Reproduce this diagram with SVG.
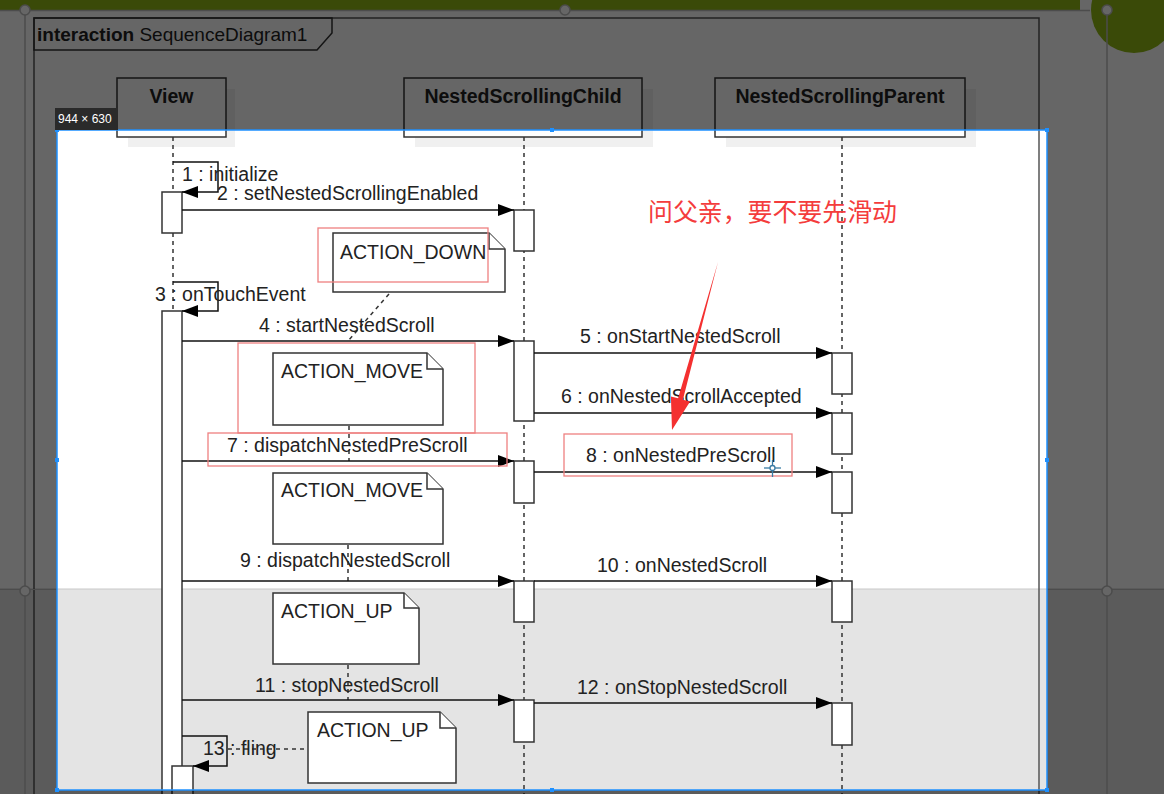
<svg xmlns="http://www.w3.org/2000/svg" width="1164" height="794" viewBox="0 0 1164 794">
<defs>
<marker id="arr" markerWidth="16" markerHeight="12" refX="16" refY="6" orient="auto" markerUnits="userSpaceOnUse"><path d="M0,0 L16,6 L0,12 Z" fill="#000"/></marker>
<style>
.t{font-family:"Liberation Sans",Arial,sans-serif;font-size:19.5px;fill:#222}
.b{font-weight:bold}
.box{fill:#fff;stroke:#333;stroke-width:1.5}
.sh{fill:#f0f0f0}
.life{stroke:#333;stroke-width:1.5;stroke-dasharray:4 4;fill:none}
.msg{stroke:#111;stroke-width:1.5;fill:none;marker-end:url(#arr)}
.act{fill:#fff;stroke:#333;stroke-width:1.5}
.note{fill:#fff;stroke:#333;stroke-width:1.5}
.anc{stroke:#333;stroke-width:1.5;stroke-dasharray:4 4;fill:none}
.red{fill:none;stroke:#ef8080;stroke-width:1.3}
.guide{stroke:#4c4c4c;stroke-width:1.5;fill:none}
.hc{fill:#666;stroke:#4c4c4c;stroke-width:1.5}
.h{fill:#1e90ff}
</style>
</defs>
<g id="background">
<rect x="0" y="0" width="1164" height="794" fill="#fff"/>
<rect x="0" y="589" width="1164" height="205" fill="#e4e4e4"/>
<line x1="0" y1="589" x2="1164" y2="589" stroke="#c8c8c8" stroke-width="1"/>
</g>
<g id="frame">
<path d="M34,794 V18 H1039 V794" fill="none" stroke="#555" stroke-width="1.5"/>
<path d="M34,18 H332 V33 L317,50 H34 Z" fill="none" stroke="#333" stroke-width="1.5"/>
<text class="t" x="37" y="41" style="font-size:19px"><tspan class="b">interaction</tspan> SequenceDiagram1</text>
</g>
<g id="lifeline-view">
<rect class="sh" x="128" y="89" width="107" height="58"/>
<rect class="box" x="117" y="78" width="109" height="59"/>
<text class="t b" x="171.5" y="103" text-anchor="middle">View</text>
<line class="life" x1="173" y1="137" x2="173" y2="794"/>
</g>
<g id="lifeline-child">
<rect class="sh" x="415" y="89" width="238" height="58"/>
<rect class="box" x="404" y="78" width="238" height="59"/>
<text class="t b" x="523" y="103" text-anchor="middle">NestedScrollingChild</text>
<line class="life" x1="524" y1="137" x2="524" y2="794"/>
</g>
<g id="lifeline-parent">
<rect class="sh" x="726" y="89" width="250" height="58"/>
<rect class="box" x="715" y="78" width="250" height="59"/>
<text class="t b" x="840" y="103" text-anchor="middle">NestedScrollingParent</text>
<line class="life" x1="842" y1="137" x2="842" y2="794"/>
</g>
<g id="notes">
<g id="note-action-down">
<path class="note" d="M333,233 H489 L505,249 V292 H333 Z"/><path class="note" d="M489,233 V249 H505"/>
<text class="t" x="340" y="259">ACTION_DOWN</text>
</g>
<g id="note-action-move-1">
<path class="note" d="M273,353 H427 L443,369 V425 H273 Z"/><path class="note" d="M427,353 V369 H443"/>
<text class="t" x="281" y="378">ACTION_MOVE</text>
</g>
<g id="note-action-move-2">
<path class="note" d="M273,473 H427 L443,489 V544 H273 Z"/><path class="note" d="M427,473 V489 H443"/>
<text class="t" x="281" y="497">ACTION_MOVE</text>
</g>
<g id="note-action-up-1">
<path class="note" d="M273,593 H404 L419,608 V664 H273 Z"/><path class="note" d="M404,593 V608 H419"/>
<text class="t" x="281" y="618">ACTION_UP</text>
</g>
<g id="note-action-up-2">
<path class="note" d="M308,712 H440 L456,728 V783 H308 Z"/><path class="note" d="M440,712 V728 H456"/>
<text class="t" x="317" y="737">ACTION_UP</text>
</g>
</g>
<g id="activations">
<rect class="act" x="162" y="192" width="20" height="41"/>
<rect class="act" x="162" y="311" width="20" height="490"/>
<rect class="act" x="172" y="766" width="21" height="40"/>
<rect class="act" x="514" y="210" width="20" height="41"/>
<rect class="act" x="514" y="341" width="20" height="80"/>
<rect class="act" x="514" y="461" width="20" height="42"/>
<rect class="act" x="514" y="581" width="20" height="41"/>
<rect class="act" x="514" y="700" width="20" height="42"/>
<rect class="act" x="832" y="353" width="20" height="41"/>
<rect class="act" x="832" y="413" width="20" height="41"/>
<rect class="act" x="832" y="472" width="20" height="41"/>
<rect class="act" x="832" y="581" width="20" height="41"/>
<rect class="act" x="832" y="703" width="20" height="42"/>
</g>
<g id="connectors">
<path class="anc" d="M389,294 L348,341"/>
<path class="anc" d="M349,426 V461"/>
<path class="anc" d="M348,545 V581"/>
<path class="anc" d="M348,665 V700"/>
<path class="anc" d="M228,749 H308"/>
<path class="msg" d="M173,162 H218 V192 H182"/>
<path class="msg" d="M182,210 H514"/>
<path class="msg" d="M173,282 H218 V311 H182"/>
<path class="msg" d="M182,341 H514"/>
<path class="msg" d="M534,353 H832"/>
<path class="msg" d="M534,413 H832"/>
<path class="msg" d="M182,461 H514"/>
<path class="msg" d="M534,472 H832"/>
<path class="msg" d="M182,581 H514"/>
<path class="msg" d="M534,581 H832"/>
<path class="msg" d="M182,700 H514"/>
<path class="msg" d="M534,703 H832"/>
<path class="msg" d="M182,736 H227 V766 H193"/>
<text class="t" x="182" y="181">1 : initialize</text>
<text class="t" x="217" y="200">2 : setNestedScrollingEnabled</text>
<text class="t" x="155" y="301">3 : onTouchEvent</text>
<text class="t" x="259" y="332">4 : startNestedScroll</text>
<text class="t" x="580" y="343">5 : onStartNestedScroll</text>
<text class="t" x="561" y="403">6 : onNestedScrollAccepted</text>
<text class="t" x="227" y="452">7 : dispatchNestedPreScroll</text>
<text class="t" x="586" y="462">8 : onNestedPreScroll</text>
<text class="t" x="240" y="567">9 : dispatchNestedScroll</text>
<text class="t" x="597" y="572">10 : onNestedScroll</text>
<text class="t" x="255" y="692">11 : stopNestedScroll</text>
<text class="t" x="577" y="694">12 : onStopNestedScroll</text>
<text class="t" x="203" y="755">13 : fling</text>
</g>
<g id="annotations">
<rect class="red" x="318" y="228" width="170" height="54"/>
<rect class="red" x="238" y="343" width="237" height="90"/>
<rect class="red" x="208" y="433" width="299" height="33"/>
<rect class="red" x="564" y="434" width="228" height="42"/>
<text x="648" y="221" font-family="'Noto Sans CJK SC','Noto Sans CJK JP',sans-serif" font-size="24.9" fill="#f43c3c">问父亲，要不要先滑动</text>
<polygon points="718,262 682.9,399.7 690.1,401.6 672,430 670.9,396.4 678.1,398.3" fill="#f43030"/>
<g id="cursor" stroke="#3a7ca5" stroke-width="1.3" fill="none">
<line x1="764" y1="468" x2="781" y2="468"/><line x1="772.5" y1="460" x2="772.5" y2="477"/>
<circle cx="772.5" cy="468" r="2.5" fill="#fff"/>
</g>
</g>
<path id="dim" d="M0,0H1164V794H0Z M57,130V790H1047V130Z" fill="#000" fill-opacity="0.6" fill-rule="evenodd"/>
<g id="screen-guides">
<rect x="0" y="0" width="1080" height="10" fill="#3a4a08"/>
<circle cx="1134" cy="10" r="43" fill="#3a4a08"/>
<line class="guide" x1="0" y1="10.5" x2="1090" y2="10.5"/>
<line class="guide" x1="25" y1="10" x2="25" y2="794"/>
<line class="guide" x1="1107" y1="10" x2="1107" y2="794"/>
<line x1="0" y1="589.5" x2="57" y2="589.5" stroke="#4c4c4c" stroke-width="1"/>
<line x1="1047" y1="589.5" x2="1164" y2="589.5" stroke="#4c4c4c" stroke-width="1"/>
<circle class="hc" cx="25" cy="10" r="5"/>
<circle class="hc" cx="565" cy="10" r="5"/>
<circle class="hc" cx="1107" cy="10" r="5"/>
<circle class="hc" cx="25" cy="591" r="5"/>
<circle class="hc" cx="1107" cy="591" r="5"/>
</g>
<g id="selection">
<rect x="57" y="130" width="990" height="660" fill="none" stroke="#1e90ff" stroke-width="1.5"/>
<rect class="h" x="55" y="128" width="4" height="4"/>
<rect class="h" x="550" y="128" width="4" height="4"/>
<rect class="h" x="1045" y="128" width="4" height="4"/>
<rect class="h" x="55" y="458" width="4" height="4"/>
<rect class="h" x="1045" y="458" width="4" height="4"/>
<rect class="h" x="55" y="788" width="4" height="4"/>
<rect class="h" x="550" y="788" width="4" height="4"/>
<rect class="h" x="1045" y="788" width="4" height="4"/>
<rect x="55" y="108" width="63" height="22" fill="#2a2a2a"/>
<text x="58" y="123" font-family="'Liberation Sans',Arial,sans-serif" font-size="12" fill="#fff">944 × 630</text>
</g>
</svg>
